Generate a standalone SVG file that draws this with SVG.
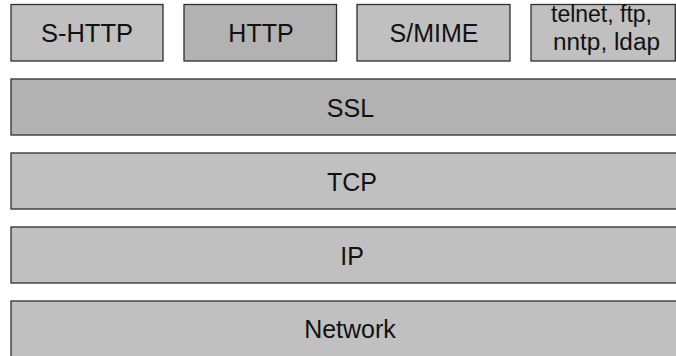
<svg xmlns="http://www.w3.org/2000/svg" width="676" height="356" viewBox="0 0 676 356">
  <style>
    .box { stroke: #2e2e2e; stroke-width: 1.3; }
    .light { fill: #c0c0c0; }
    .dark { fill: #b2b2b2; }
    .label { font-family: "Liberation Sans", Arial, sans-serif; font-size: 25px; fill: #111; text-anchor: middle; }
    .small { font-size: 23px; }
  </style>
  <rect width="676" height="356" fill="#ffffff"/>

  <!-- application protocols -->
  <g id="s-http">
    <rect class="box light" x="11" y="4.5" width="152" height="56.5"/>
    <text class="label" x="87" y="41.7" textLength="92" lengthAdjust="spacingAndGlyphs">S-HTTP</text>
  </g>
  <g id="http">
    <rect class="box dark" x="184" y="4.5" width="152.5" height="56.5"/>
    <text class="label" x="261" y="41.7">HTTP</text>
  </g>
  <g id="s-mime">
    <rect class="box light" x="357" y="4.5" width="153" height="56.5"/>
    <text class="label" x="434" y="41.7">S/MIME</text>
  </g>
  <g id="other-apps">
    <rect class="box light" x="531" y="4.5" width="144.3" height="56.5"/>
    <text class="label small" x="601.5" y="21.5" textLength="101" lengthAdjust="spacingAndGlyphs">telnet, ftp,</text>
    <text class="label small" x="606.5" y="50" textLength="107" lengthAdjust="spacingAndGlyphs">nntp, ldap</text>
  </g>

  <!-- layered stack -->
  <g id="ssl">
    <rect class="box dark" x="11" y="79" width="680" height="56"/>
    <text class="label" x="350.5" y="116.7">SSL</text>
  </g>
  <g id="tcp">
    <rect class="box light" x="11" y="153" width="680" height="56"/>
    <text class="label" x="352" y="191">TCP</text>
  </g>
  <g id="ip">
    <rect class="box light" x="11" y="227" width="680" height="56"/>
    <text class="label" x="352" y="265">IP</text>
  </g>
  <g id="network">
    <rect class="box light" x="11" y="301" width="680" height="56"/>
    <text class="label" x="350" y="337.7">Network</text>
  </g>
</svg>
